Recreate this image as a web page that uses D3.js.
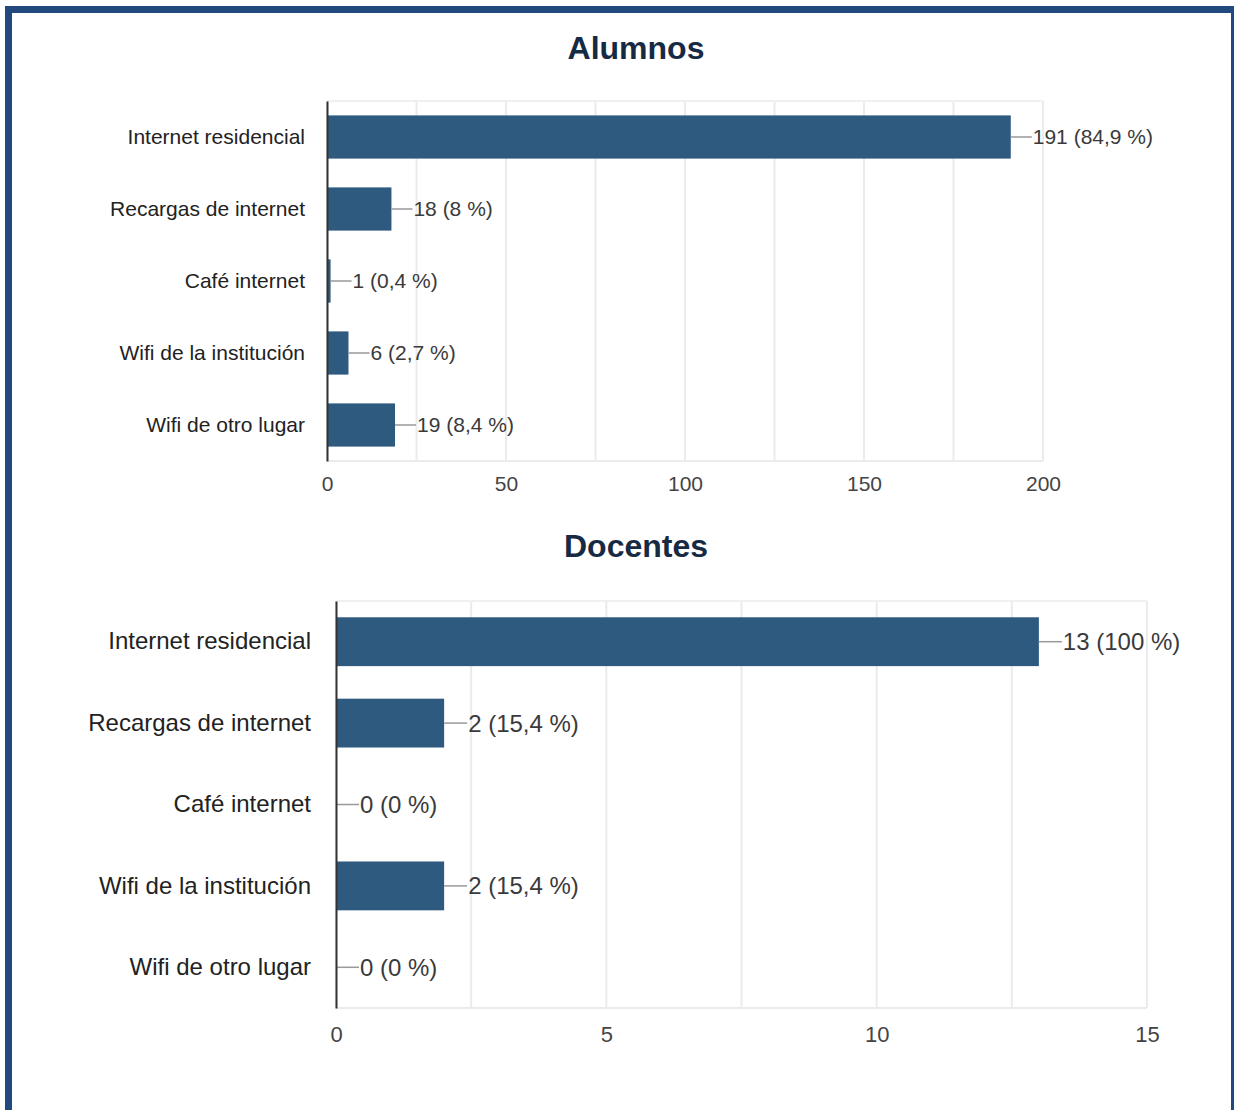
<!DOCTYPE html>
<html><head><meta charset="utf-8">
<script src="https://cdn.jsdelivr.net/npm/d3@7"></script>
<style>html,body{margin:0;padding:0;background:#fff}svg{display:block}</style>
</head><body>
<script>
const categories = ["Internet residencial","Recargas de internet","Café internet","Wifi de la institución","Wifi de otro lugar"];
const alumnosValues = [191, 18, 1, 6, 19];
const alumnosPct = ["84,9", "8", "0,4", "2,7", "8,4"];
const alumnosTicks = [0, 50, 100, 150, 200];
const docentesValues = [13, 2, 0, 2, 0];
const docentesPct = ["100", "15,4", "0", "15,4", "0"];
const docentesTicks = [0, 5, 10, 15];

const W = 1236, H = 1110;
const svg = d3.select("body").append("svg").attr("width", W).attr("height", H);
svg.append("rect").attr("x",0).attr("y",0).attr("width",W).attr("height",H).attr("fill","#fff");
svg.append("rect").attr("x",5).attr("y",6).attr("width",1229).attr("height",H).attr("fill","#22497e");
svg.append("rect").attr("x",12).attr("y",13).attr("width",1219).attr("height",H).attr("fill","#fff");

const FONT = "'Liberation Sans', Arial, sans-serif";
const BAR = "#2e5a80";

function drawChart(o) {
  const g = svg.append("g");
  g.append("text").attr("x", 636).attr("y", o.titleY).attr("text-anchor","middle")
    .attr("font-family", FONT).attr("font-weight","bold").attr("font-size", 32)
    .attr("fill","#172a44").text(o.title);
  const x = d3.scaleLinear().domain(o.domain).range([o.left, o.right]);
  const y = d3.scaleBand().domain(categories).range([o.top, o.bottom]).paddingInner(0.4).paddingOuter(0.2);
  // grid
  g.append("g").selectAll("line").data(d3.range(o.domain[0], o.domain[1] + 1e-9, o.gridStep)).join("line")
    .attr("x1", d => x(d)).attr("x2", d => x(d)).attr("y1", o.top).attr("y2", o.bottom)
    .attr("stroke", "#ebebeb").attr("stroke-width", 2);
  g.append("line").attr("x1", o.left).attr("x2", o.right).attr("y1", o.top).attr("y2", o.top).attr("stroke","#f0f0f0").attr("stroke-width",2);
  g.append("line").attr("x1", o.left).attr("x2", o.right).attr("y1", o.bottom).attr("y2", o.bottom).attr("stroke","#ebebeb").attr("stroke-width",2);
  // bars
  g.append("g").selectAll("rect").data(o.values).join("rect")
    .attr("x", x(0)).attr("y", (d,i) => y(categories[i]))
    .attr("width", d => x(d) - x(0)).attr("height", y.bandwidth()).attr("fill", BAR);
  // leader lines + labels
  g.append("g").selectAll("line").data(o.values).join("line")
    .attr("x1", d => x(d)).attr("x2", d => x(d) + o.lead)
    .attr("y1", (d,i) => y(categories[i]) + y.bandwidth()/2).attr("y2", (d,i) => y(categories[i]) + y.bandwidth()/2)
    .attr("stroke", "#999").attr("stroke-width", 1.5);
  g.append("g").selectAll("text").data(o.values).join("text")
    .attr("x", d => x(d) + o.lead + 1).attr("y", (d,i) => y(categories[i]) + y.bandwidth()/2)
    .attr("dy", "0.35em").attr("font-family", FONT).attr("font-size", o.fs).attr("fill", "#3a3a3a")
    .text((d,i) => `${d} (${o.pct[i]} %)`);
  // y axis
  const ya = g.append("g").attr("transform", `translate(${o.left},0)`)
    .call(d3.axisLeft(y).tickSize(0).tickPadding(o.labelPad));
  ya.select(".domain").attr("stroke", "#333").attr("stroke-width", 2);
  ya.selectAll("text").attr("font-family", FONT).attr("font-size", o.fs).attr("fill", "#222");
  // x axis
  const xa = g.append("g").attr("transform", `translate(0,${o.bottom})`)
    .call(d3.axisBottom(x).tickValues(o.ticks).tickSize(0).tickPadding(o.tickPad));
  xa.select(".domain").remove();
  xa.selectAll("text").attr("font-family", FONT).attr("font-size", o.tickFs).attr("fill", "#444");
}

drawChart({title:"Alumnos", titleY:59, values:alumnosValues, pct:alumnosPct, ticks:alumnosTicks,
  domain:[0,200], gridStep:25, left:327, right:1043, top:101, bottom:461, lead:21, fs:21, tickFs:21,
  labelPad:22, tickPad:15});
drawChart({title:"Docentes", titleY:557, values:docentesValues, pct:docentesPct, ticks:docentesTicks,
  domain:[0,15], gridStep:2.5, left:336, right:1147, top:601, bottom:1008, lead:23, fs:24, tickFs:22,
  labelPad:25, tickPad:18});
</script>
</body></html>
